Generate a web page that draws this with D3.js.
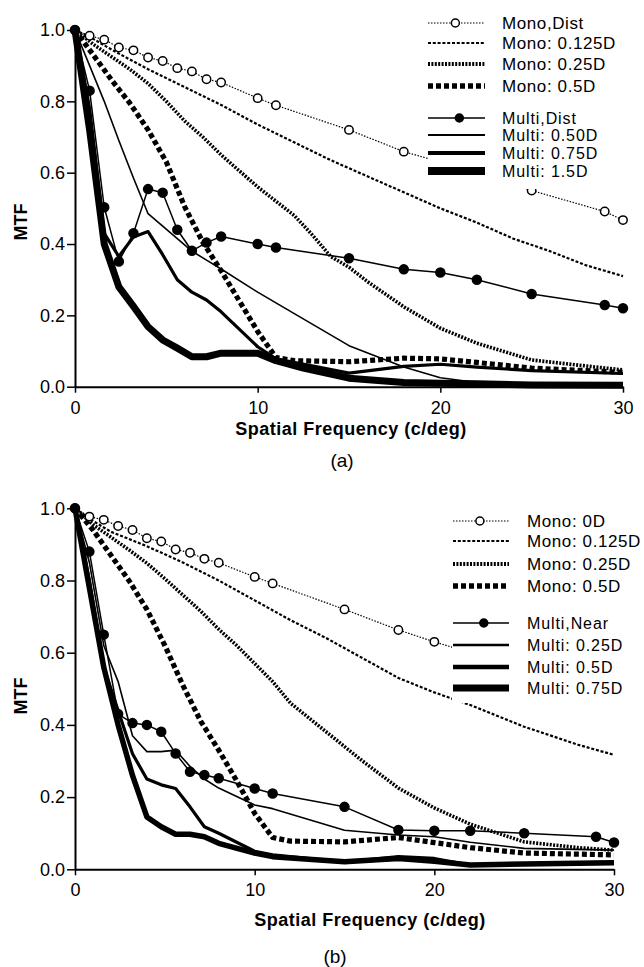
<!DOCTYPE html>
<html>
<head>
<meta charset="utf-8">
<script src="https://cdn.jsdelivr.net/npm/d3@7"></script>
<style>
  body { margin: 0; background: #fff; }
  svg { display: block; font-family: "Liberation Sans", Arial, Helvetica, sans-serif; }
</style>
</head>
<body>
<svg id="chart" width="644" height="967"></svg>
<script>
// ---- data ----
const fMark = [0, 0.8, 1.6, 2.4, 3.2, 4, 4.8, 5.6, 6.4, 7.2, 8, 10, 11, 15, 18, 20, 22, 25, 29, 30];
const fMulti = [0, 0.8, 1.6, 2.4, 3.2, 4, 4.8, 5.6, 6.4, 7.2, 8, 10, 11, 15, 18, 20, 22, 25, 30];
const fMulti15 = [0, 0.8, 1.6, 2.4, 3.2, 4, 4.8, 5.6, 6.4, 7.2, 8, 10, 11, 12.5, 15, 18, 20, 22, 25, 30];
const fEven = [0, 1, 2, 4, 6, 8, 10, 12, 14, 16, 18, 20, 22, 24, 26, 28, 30];
const fEvenB = [0, 1, 2, 4, 6, 8, 10, 12, 14, 16, 18, 20, 22, 25, 28, 30];
const fDense = [0, 1, 2, 3, 4, 5, 6, 7, 8, 9, 10, 11, 12, 13, 14, 15, 16, 18, 20, 22, 25, 28, 30];
const fHalf = [0, 1, 2, 3, 4, 5, 6, 7, 8, 9, 10, 11, 12, 15, 18, 20, 22, 25, 28, 30];

// panel (a)
const monoDistA = [1, 0.984, 0.973, 0.951, 0.943, 0.923, 0.913, 0.893, 0.884, 0.862, 0.853, 0.809, 0.789, 0.72, 0.659, 0.63, 0.6, 0.55, 0.491, 0.467];
const mono125A = [1, 0.975, 0.945, 0.89, 0.84, 0.79, 0.735, 0.685, 0.635, 0.59, 0.545, 0.5, 0.46, 0.415, 0.38, 0.34, 0.31];
const mono25A = [1, 0.96, 0.925, 0.89, 0.85, 0.8, 0.745, 0.7, 0.65, 0.605, 0.56, 0.52, 0.48, 0.425, 0.365, 0.335, 0.295, 0.224, 0.164, 0.122, 0.075, 0.058, 0.047];
const mono5A = [1, 0.93, 0.86, 0.795, 0.72, 0.63, 0.505, 0.405, 0.325, 0.24, 0.155, 0.082, 0.073, 0.07, 0.08, 0.078, 0.068, 0.052, 0.045, 0.04];
const multiDistA = [1, 0.83, 0.503, 0.351, 0.43, 0.554, 0.544, 0.44, 0.381, 0.404, 0.421, 0.4, 0.39, 0.36, 0.329, 0.32, 0.3, 0.26, 0.229, 0.22];
const multi50A = [1, 0.9, 0.8, 0.69, 0.585, 0.485, 0.45, 0.415, 0.38, 0.355, 0.33, 0.265, 0.235, 0.115, 0.055, 0.025, 0.012, 0.006, 0.005];
const multi75A = [1, 0.78, 0.43, 0.365, 0.42, 0.435, 0.37, 0.3, 0.265, 0.243, 0.21, 0.112, 0.078, 0.038, 0.057, 0.063, 0.055, 0.045, 0.037];
const multi15A = [1, 0.72, 0.4, 0.28, 0.225, 0.168, 0.131, 0.108, 0.084, 0.084, 0.094, 0.094, 0.073, 0.052, 0.024, 0.012, 0.01, 0.008, 0.005, 0.004];

// panel (b)
const mono0B = [1, 0.977, 0.968, 0.951, 0.94, 0.917, 0.908, 0.886, 0.877, 0.86, 0.849, 0.81, 0.792, 0.72, 0.663, 0.63, 0.6, 0.55, 0.5, 0.48];
const mono125B = [1, 0.965, 0.935, 0.895, 0.85, 0.8, 0.745, 0.69, 0.64, 0.585, 0.53, 0.49, 0.455, 0.395, 0.345, 0.317];
const mono25B = [1, 0.955, 0.92, 0.885, 0.848, 0.805, 0.76, 0.715, 0.665, 0.62, 0.57, 0.52, 0.46, 0.42, 0.38, 0.34, 0.3, 0.225, 0.17, 0.125, 0.076, 0.06, 0.053];
const mono5B = [1, 0.94, 0.87, 0.8, 0.72, 0.62, 0.51, 0.41, 0.33, 0.245, 0.155, 0.088, 0.078, 0.076, 0.088, 0.074, 0.06, 0.045, 0.042, 0.04];
const multiNearB = [1, 0.88, 0.65, 0.43, 0.405, 0.4, 0.381, 0.321, 0.27, 0.261, 0.252, 0.224, 0.21, 0.173, 0.109, 0.107, 0.107, 0.1, 0.09, 0.074];
const multi25B = [1, 0.85, 0.62, 0.52, 0.37, 0.326, 0.326, 0.33, 0.285, 0.25, 0.225, 0.178, 0.168, 0.108, 0.095, 0.09, 0.075, 0.058, 0.053];
const multi5B = [1, 0.8, 0.56, 0.44, 0.32, 0.25, 0.234, 0.224, 0.173, 0.118, 0.1, 0.05, 0.04, 0.02, 0.035, 0.03, 0.012, 0.015, 0.02];
const multi75B = [1, 0.78, 0.56, 0.4, 0.26, 0.145, 0.118, 0.097, 0.097, 0.09, 0.072, 0.045, 0.035, 0.021, 0.03, 0.022, 0.012, 0.015, 0.018];

const xTicks = [0, 10, 20, 30];
const yTicks = [0, 0.2, 0.4, 0.6, 0.8, 1.0];
const legendA = ["Mono,Dist", "Mono: 0.125D", "Mono: 0.25D", "Mono: 0.5D", "Multi,Dist", "Multi: 0.50D", "Multi: 0.75D", "Multi: 1.5D"];
const legendB = ["Mono: 0D", "Mono: 0.125D", "Mono: 0.25D", "Mono: 0.5D", "Multi,Near", "Multi: 0.25D", "Multi: 0.5D", "Multi: 0.75D"];

// ---- line styles ----
const styles = {
  open:  {w: 1.2, dash: "1.5,1.5", marker: "open"},
  m125:  {w: 2.2, dash: "3,1.8"},
  m25:   {w: 3.6, dash: "2,1.4"},
  m5:    {w: 5.2, dash: "5,3"},
  dot:   {w: 1.5, marker: "filled"},
  thin:  {w: 1.6},
  mid:   {w: 3.2},
  thick: {w: 5.5},
  heavy: {w: 7}
};

const svg = d3.select("#chart");

function drawPanel(p) {
  const x = d3.scaleLinear().domain([0, 30]).range([p.left, p.right]);
  const y = d3.scaleLinear().domain([0, 1]).range([p.bottom, p.top]);
  const g = svg.append("g");
  const line = d3.line().x(d => x(d[0])).y(d => y(d[1]));

  // curves, heaviest first
  p.series.slice().reverse().forEach(s => {
    const st = styles[s.style];
    const pts = s.f.map((f, i) => [f, s.v[i]]);
    g.append("path")
      .attr("d", line(pts))
      .attr("fill", "none")
      .attr("stroke", "#000")
      .attr("stroke-width", st.w)
      .attr("stroke-dasharray", st.dash || null)
      .attr("stroke-linejoin", "round");
  });
  p.series.forEach(s => {
    const st = styles[s.style];
    if (!st.marker) return;
    const pts = s.f.map((f, i) => [f, s.v[i]]);
    g.selectAll(null).data(pts).join("circle")
      .attr("cx", d => x(d[0]))
      .attr("cy", d => y(d[1]))
      .attr("r", st.marker === "open" ? 4.2 : 4.5)
      .attr("fill", st.marker === "open" ? "#fff" : "#000")
      .attr("stroke", "#000")
      .attr("stroke-width", 1.5);
  });

  // axes
  const ax = g.append("g").attr("transform", `translate(0,${p.bottom})`)
    .call(d3.axisBottom(x).tickValues(xTicks).tickSize(6).tickSizeOuter(0).tickPadding(p.xPad));
  const ay = g.append("g").attr("transform", `translate(${p.left},0)`)
    .call(d3.axisLeft(y).tickValues(yTicks).tickSize(8).tickSizeOuter(0).tickPadding(2).tickFormat(d3.format(".1f")));
  [ax, ay].forEach(a => {
    a.select(".domain").attr("stroke-width", 2);
    a.selectAll(".tick line").attr("stroke-width", 1.5);
    a.selectAll(".tick text").attr("font-size", 18).attr("font-family", null).attr("fill", "#000");
  });

  // legend with white backing
  g.append("rect")
    .attr("x", p.lgBox[0]).attr("y", p.lgBox[1])
    .attr("width", p.lgBox[2]).attr("height", p.lgBox[3])
    .attr("fill", "#fff");
  const lgStyles = ["open", "m125", "m25", "m5", "dot", "thin", "mid", "heavy"];
  p.legend.forEach((label, i) => {
    const st = styles[lgStyles[i]];
    const yy = p.lgY[i];
    g.append("line")
      .attr("x1", p.lgX[0]).attr("x2", p.lgX[1]).attr("y1", yy).attr("y2", yy)
      .attr("stroke", "#000").attr("stroke-width", p.lgWidths[i])
      .attr("stroke-dasharray", st.dash || null);
    if (st.marker) {
      g.append("circle")
        .attr("cx", p.lgX[0] + (p.lgX[1] - p.lgX[0]) * (st.marker === "open" ? 0.48 : 0.55))
        .attr("cy", yy)
        .attr("r", 4)
        .attr("fill", st.marker === "open" ? "#fff" : "#000")
        .attr("stroke", "#000").attr("stroke-width", 1.5);
    }
    g.append("text")
      .attr("x", p.lgText).attr("y", yy).attr("dy", "0.35em")
      .attr("font-size", i < 4 ? 17 : 16)
      .attr("letter-spacing", i < 4 ? 0.6 : 0.9)
      .text(label);
  });

  // labels
  g.append("text")
    .attr("transform", `translate(${p.mtf[0]},${p.mtf[1]}) rotate(-90)`)
    .attr("text-anchor", "middle").attr("dy", "0.35em")
    .attr("font-size", 18).attr("font-weight", "bold").text("MTF");
  g.append("text")
    .attr("x", p.title[0]).attr("y", p.title[1])
    .attr("text-anchor", "middle").attr("font-size", 18).attr("font-weight", "bold")
    .attr("letter-spacing", 0.5)
    .text("Spatial Frequency (c/deg)");
  g.append("text")
    .attr("x", p.tag[0]).attr("y", p.tag[1])
    .attr("text-anchor", "middle").attr("font-size", 19).text(p.tagText);
}

drawPanel({
  left: 75, right: 623, top: 30, bottom: 386.7, xPad: 9,
  series: [
    {f: fMark, v: monoDistA, style: "open"},
    {f: fEven, v: mono125A, style: "m125"},
    {f: fDense, v: mono25A, style: "m25"},
    {f: fHalf, v: mono5A, style: "m5"},
    {f: fMark, v: multiDistA, style: "dot"},
    {f: fMulti, v: multi50A, style: "thin"},
    {f: fMulti, v: multi75A, style: "mid"},
    {f: fMulti15, v: multi15A, style: "heavy"}
  ],
  legend: legendA,
  lgBox: [428, 8, 214, 181],
  lgX: [428, 485], lgText: 502,
  lgY: [23, 43, 64, 86, 118, 135, 153, 171],
  lgWidths: [1.2, 2.2, 4, 5.5, 1.5, 2, 4, 8],
  mtf: [21, 222], title: [351, 435], tag: [342, 467], tagText: "(a)"
});

drawPanel({
  left: 75, right: 614, top: 508.3, bottom: 869.3, xPad: 8,
  series: [
    {f: fMark, v: mono0B, style: "open"},
    {f: fEvenB, v: mono125B, style: "m125"},
    {f: fDense, v: mono25B, style: "m25"},
    {f: fHalf, v: mono5B, style: "m5"},
    {f: fMark, v: multiNearB, style: "dot"},
    {f: fMulti, v: multi25B, style: "thin"},
    {f: fMulti, v: multi5B, style: "mid"},
    {f: fMulti, v: multi75B, style: "thick"}
  ],
  legend: legendB,
  lgBox: [452, 506, 192, 197],
  lgX: [453, 509], lgText: 527,
  lgY: [521, 541, 564, 586, 623, 645, 667, 688],
  lgWidths: [1.2, 2.2, 4, 5.5, 1.5, 2.5, 4.5, 7],
  mtf: [21, 696], title: [370, 926], tag: [335, 963], tagText: "(b)"
});
</script>
</body>
</html>
